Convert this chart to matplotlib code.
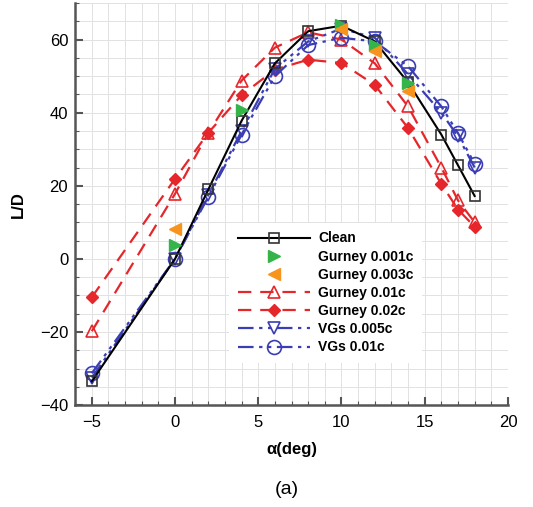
import numpy as np
import matplotlib
matplotlib.use("Agg")
from matplotlib import pyplot as plt
from matplotlib.ticker import MultipleLocator

plt.rcParams["font.family"] = ["Liberation Sans", "DejaVu Sans"]

# Data
alpha = [-5, 0, 2, 4, 6, 8, 10, 12, 14, 16, 17, 18]
clean = [-33.5, 0, 19, 37.8, 53.5, 62.3, 63.8, 59.5, 48.3, 34, 25.6, 17.2]
gurney_01 = [-19.8, 17.8, 34.5, 48.8, 57.8, 62, 60, 53.5, 41.7, 25, 16, 10]
gurney_02 = [-10.5, 21.9, 34.5, 44.8, 51.8, 54.5, 53.6, 47.6, 35.8, 20.5, 13.5, 8.8]
vgs_005 = [-32.5, 0, 17.5, 35, 52, 59.5, 63, 60.5, 50.5, 40, 33.5, 25]
vgs_01 = [-31.3, 0, 17, 34, 50, 58.5, 60.5, 59.5, 52.7, 41.7, 34.4, 26]

g001_alpha = [0, 4, 10, 12, 14]
g001 = [3.8, 40.8, 64, 58.5, 48.2]
g003_alpha = [0, 10, 12, 14]
g003 = [8.2, 63, 56.8, 45.8]

red = "#e5262b"
blue = "#3a3db3"
vg_dash = (7, 2.5, 1.5, 2.5, 1.5, 2.5)

fig = plt.figure(figsize=(5.33, 5.07), dpi=100)
ax = fig.add_axes([0.141, 0.201, 0.812, 0.793])

ax.plot(alpha, clean, color="black", lw=1.5, marker="s", ms=7, mfc="none",
        mec="#333333", mew=1.2, label="Clean", zorder=4)
ax.plot(g001_alpha, g001, ls="none", marker=">", ms=8, color="#35b44a",
        label="Gurney 0.001c", zorder=5)
ax.plot(g003_alpha, g003, ls="none", marker="<", ms=8, color="#f7941d",
        label="Gurney 0.003c", zorder=5)
ax.plot(alpha, gurney_01, color=red, lw=1.6, dashes=(6, 4), marker="^", ms=8,
        mfc="none", mew=1.2, label="Gurney 0.01c", zorder=3)
ax.plot(alpha, gurney_02, color=red, lw=1.6, dashes=(6, 4), marker="D", ms=6.5,
        label="Gurney 0.02c", zorder=3)
ax.plot(alpha, vgs_005, color=blue, lw=1.6, dashes=vg_dash,
        marker="v", ms=8, mfc="none", mew=1.2, label="VGs 0.005c", zorder=3)
ax.plot(alpha, vgs_01, color=blue, lw=1.6, dashes=vg_dash,
        marker="o", ms=10, mfc="none", mew=1.2, label="VGs 0.01c", zorder=3)

ax.set_xlim(-6, 20)
ax.set_ylim(-40, 70)
ax.xaxis.set_minor_locator(MultipleLocator(1))
ax.yaxis.set_minor_locator(MultipleLocator(5))
ax.set_yticks([-40, -20, 0, 20, 40, 60])
ax.set_yticklabels(["\u221240", "\u221220", "0", "20", "40", "60"])
ax.set_xticks([-5, 0, 5, 10, 15, 20])
ax.set_xticklabels(["\u22125", "0", "5", "10", "15", "20"])

ax.grid(which="both", color="#e2e2e2", lw=0.7)
ax.set_axisbelow(True)
ax.tick_params(which="both", direction="in", labelsize=12, color="#555555")
ax.tick_params(which="major", length=6, width=1.5)
ax.tick_params(which="minor", length=3, width=0.8)
ax.tick_params(axis="x", which="major", pad=7)
ax.tick_params(axis="y", which="major", pad=5)

for s in ["top", "right"]:
    ax.spines[s].set_visible(False)
for s in ["left", "bottom"]:
    ax.spines[s].set_color("#555555")
    ax.spines[s].set_linewidth(1.8)

ax.set_xlabel("\u03b1(deg)", fontsize=12, fontweight="bold", labelpad=9)
ax.set_ylabel("L/D", fontsize=12, fontweight="bold", labelpad=10)

leg = ax.legend(loc="upper left", bbox_to_anchor=(0.34, 0.47),
                handlelength=5.2, labelspacing=0.3, frameon=True,
                borderpad=0.6, handletextpad=0.6, prop={"weight": "bold", "size": 10})
leg.get_frame().set_edgecolor("none")
leg.get_frame().set_facecolor("white")
leg.get_frame().set_alpha(1)

fig.text(0.538, 0.025, "(a)", fontsize=14, ha="center")

fig.savefig("out.png", dpi=100)
